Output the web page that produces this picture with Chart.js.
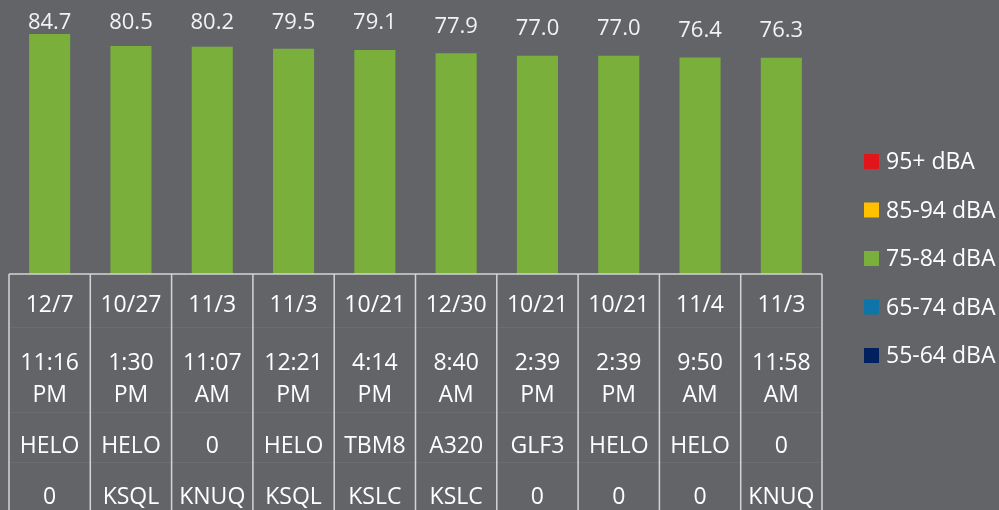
<!DOCTYPE html>
<html>
<head>
<meta charset="utf-8">
<script src="https://cdn.jsdelivr.net/npm/chart.js@4"></script>
<style>
html,body{margin:0;padding:0;background:#636468;}
#wrap{width:999px;height:510px;position:relative;}
canvas{display:block;}
</style>
</head>
<body>
<div id="wrap"><canvas id="c" width="999" height="510"></canvas></div>
<script>
// ---- data ----
const dates    = ["12/7","10/27","11/3","11/3","10/21","12/30","10/21","10/21","11/4","11/3"];
const times    = ["11:16 PM","1:30 PM","11:07 AM","12:21 PM","4:14 PM","8:40 AM","2:39 PM","2:39 PM","9:50 AM","11:58 AM"];
const aircraft = ["HELO","HELO","0","HELO","TBM8","A320","GLF3","HELO","HELO","0"];
const airports = ["0","KSQL","KNUQ","KSQL","KSLC","KSLC","0","0","0","KNUQ"];
const levels   = [84.7,80.5,80.2,79.5,79.1,77.9,77.0,77.0,76.4,76.3];
const seriesNames = ["95+ dBA","85-94 dBA","75-84 dBA","65-74 dBA","55-64 dBA"];
const seriesColors = ["#e1161b","#ffc000","#7aaf3c","#0e75a8","#00205f"];

const FONT = "'Open Sans', sans-serif";
const TEXT = "#ffffff";

const datasets = seriesNames.map((name, i) => ({
  label: name,
  data: name === "75-84 dBA" ? levels : levels.map(() => 0),
  backgroundColor: seriesColors[i],
  borderWidth: 0,
  categoryPercentage: 1.0,
  barPercentage: 0.505
}));

const tablePlugin = {
  id: 'tablePlugin',
  afterDraw(chart) {
    const ctx = chart.ctx;
    const xs = chart.scales.x;
    const area = chart.chartArea;
    const n = dates.length;
    const colW = (area.right - area.left) / n;
    const top = area.bottom;
    ctx.save();
    // faint row separators
    ctx.strokeStyle = "#6b6c70";
    ctx.lineWidth = 1;
    [327, 412, 462].forEach(y => {
      ctx.beginPath(); ctx.moveTo(area.left, y + 0.5); ctx.lineTo(area.right, y + 0.5); ctx.stroke();
    });
    // borders
    ctx.strokeStyle = "#d4d4d4";
    ctx.lineWidth = 1.5;
    ctx.beginPath();
    ctx.moveTo(area.left, top); ctx.lineTo(area.right, top);
    for (let i = 0; i <= n; i++) {
      const x = area.left + i * colW;
      ctx.moveTo(x, top); ctx.lineTo(x, 520);
    }
    ctx.stroke();
    // text
    ctx.fillStyle = TEXT;
    ctx.font = "23px " + FONT;
    ctx.textAlign = "center";
    ctx.textBaseline = "middle";
    for (let i = 0; i < n; i++) {
      const x = xs.getPixelForValue(i);
      ctx.fillText(dates[i], x, 305);
      const t = times[i].split(" ");
      ctx.fillText(t[0], x, 363);
      ctx.fillText(t[1], x, 395);
      ctx.fillText(aircraft[i], x, 446);
      ctx.fillText(airports[i], x, 497);
    }
    // value labels
    const meta = chart.getDatasetMeta(2);
    ctx.font = "22px " + FONT;
    ctx.fillStyle = "#f2f2f2";
    meta.data.forEach((el, i) => {
      const y = Math.max(el.y - 27, 23);
      ctx.fillText(levels[i].toFixed(1), el.x, y);
    });
    // legend
    ctx.font = "23px " + FONT;
    ctx.textAlign = "left";
    seriesNames.forEach((name, i) => {
      const cy = 161.5 + i * 48.5;
      ctx.fillStyle = seriesColors[i];
      ctx.fillRect(864, cy - 7.5, 15, 15);
      ctx.fillStyle = TEXT;
      ctx.fillText(name, 886, cy + 1);
    });
    ctx.restore();
  }
};

new Chart(document.getElementById('c'), {
  type: 'bar',
  data: { labels: dates, datasets },
  options: {
    responsive: false,
    animation: false,
    layout: { padding: { top: 19, bottom: 236, left: 9, right: 177 } },
    plugins: { legend: { display: false }, tooltip: { enabled: false } },
    scales: {
      x: { display: false, stacked: true, offset: true },
      y: { display: false, stacked: true, min: 0, max: 90 }
    }
  },
  plugins: [tablePlugin]
});
</script>
</body>
</html>
